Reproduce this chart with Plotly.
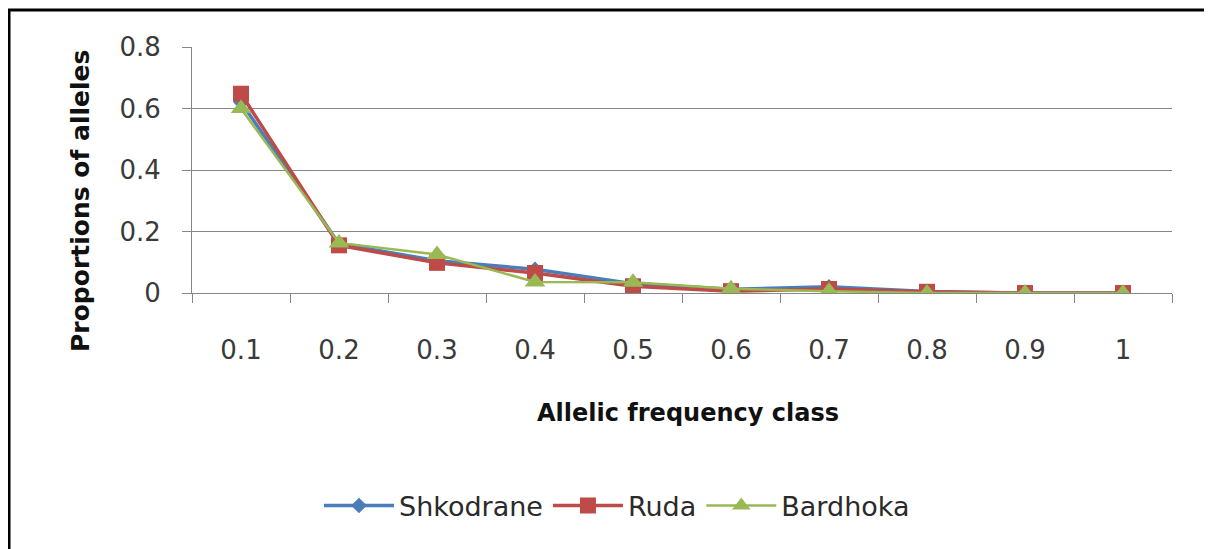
import plotly.graph_objects as go

categories = ["0.1", "0.2", "0.3", "0.4", "0.5", "0.6", "0.7", "0.8", "0.9", "1"]
shkodrane = [0.62, 0.16, 0.105, 0.077, 0.03, 0.012, 0.02, 0.005, 0.0, 0.0]
ruda = [0.648, 0.155, 0.098, 0.065, 0.022, 0.006, 0.013, 0.004, 0.0, 0.0]
bardhoka = [0.60, 0.163, 0.125, 0.036, 0.035, 0.014, 0.006, 0.0, 0.0, 0.0]
y_ticks = [0, 0.2, 0.4, 0.6, 0.8]
y_ticklabels = ["0", "0.2", "0.4", "0.6", "0.8"]

FONT = "DejaVu Sans"
OFF = 8  # page body margin
W, H = 1212 - OFF, 549 - OFF
L, R, T, B = 192 - OFF, W - (1172 - OFF), 47 - OFF, H - (293 - OFF)
pw, ph = W - L - R, H - T - B

def px(x):
    return (x - OFF - L) / pw

def py(y):
    return (H - B - (y - OFF)) / ph

fig = go.Figure()
fig.add_trace(go.Scatter(x=categories, y=shkodrane, name="Shkodrane", mode="lines+markers",
                         line=dict(color="#4A7EBB", width=3.5),
                         marker=dict(symbol="diamond", size=12, color="#4A7EBB")))
fig.add_trace(go.Scatter(x=categories, y=ruda, name="Ruda", mode="lines+markers",
                         line=dict(color="#BE4B48", width=3.5),
                         marker=dict(symbol="square", size=16, color="#BE4B48")))
fig.add_trace(go.Scatter(x=categories, y=bardhoka, name="Bardhoka", mode="lines+markers",
                         line=dict(color="#98B954", width=2.5),
                         marker=dict(symbol="triangle-up", size=18, color="#98B954")))

fig.update_layout(
    width=W, height=H,
    margin=dict(l=L, r=R, t=T, b=B),
    paper_bgcolor="white", plot_bgcolor="white",
    font=dict(family=FONT, size=26, color="#3a3a3a"),
    showlegend=True,
    legend=dict(orientation="h", x=px(617), y=py(506), xanchor="center", yanchor="middle",
                font=dict(family=FONT, size=27, color="#2a2a2a"), itemwidth=70,
                traceorder="normal"),
    xaxis=dict(type="category", range=[-0.5, len(categories) - 0.5], showgrid=False,
               showline=True, linecolor="#868686", linewidth=1,
               ticks="outside", ticklen=9, tickcolor="#868686", tickson="boundaries",
               ticklabelstandoff=34, tickfont=dict(family=FONT, size=26, color="#3a3a3a"),
               zeroline=False, fixedrange=True),
    yaxis=dict(range=[0, 0.8], tickvals=y_ticks, ticktext=y_ticklabels, showgrid=True,
               gridcolor="#868686", gridwidth=1, showline=True, linecolor="#868686",
               linewidth=1, ticks="outside", ticklen=9, tickcolor="#868686",
               ticklabelstandoff=16, tickfont=dict(family=FONT, size=26, color="#3a3a3a"),
               zeroline=False),
    annotations=[
        dict(text="<b>Allelic frequency class</b>", xref="paper", yref="paper",
             x=px(688), y=py(413), xanchor="center", yanchor="middle", showarrow=False,
             font=dict(family=FONT, size=24, color="#111111")),
        dict(text="<b>Proportions of alleles</b>", xref="paper", yref="paper",
             x=px(80), y=py(201), xanchor="center", yanchor="middle", showarrow=False,
             textangle=-90, font=dict(family=FONT, size=25, color="#111111")),
    ],
    shapes=[
        dict(type="line", xref="paper", yref="paper", x0=px(8), x1=px(1212), y0=py(10), y1=py(10),
             line=dict(color="black", width=3)),
        dict(type="line", xref="paper", yref="paper", x0=px(9), x1=px(9), y0=py(9), y1=py(549),
             line=dict(color="black", width=3)),
    ],
)

fig.write_html("out.html")
